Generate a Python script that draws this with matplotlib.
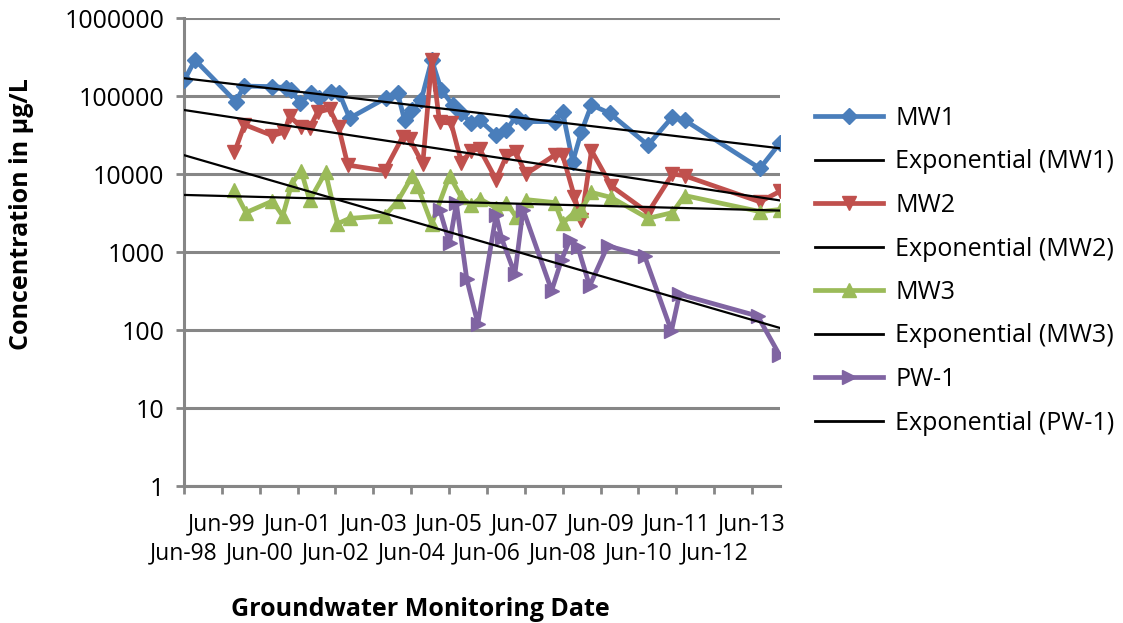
import numpy as np
import pandas as pd
import matplotlib
matplotlib.use("Agg")
import matplotlib.pyplot as plt
import matplotlib.dates as mdates
from matplotlib.lines import Line2D

plt.rcParams['font.family'] = ['Open Sans', 'DejaVu Sans']

# ---------------- data ----------------
mw1_dates = ["1998-06-05", "1998-09-15", "1999-10-12", "2000-01-05", "2000-10-01", "2001-02-06",
             "2001-03-25", "2001-06-28", "2001-10-05", "2001-12-20", "2002-04-20", "2002-07-08",
             "2002-10-15", "2003-10-05", "2004-01-22", "2004-03-28", "2004-06-12", "2004-09-05",
             "2004-12-15", "2005-03-18", "2005-07-05", "2005-09-28", "2006-01-01", "2006-03-22",
             "2006-08-28", "2006-12-05", "2007-03-10", "2007-05-30", "2008-03-15", "2008-05-30",
             "2008-09-05", "2008-11-28", "2009-03-05", "2009-08-28", "2010-09-01", "2011-04-25",
             "2011-08-20", "2013-08-15", "2014-02-25"]
mw1_vals = [160000, 290000, 85000, 134000, 132000, 128000,
            120000, 82000, 109000, 95000, 113000, 108000,
            52000, 95000, 108000, 49000, 66000, 89000,
            290000, 119000, 77000, 60000, 45000, 49000,
            31600, 36600, 55000, 47000, 47000, 63000,
            14400, 35000, 77000, 60000, 23500, 54000,
            49000, 11800, 25000]

mw2_dates = ["1999-10-01", "2000-01-05", "2000-10-01", "2001-01-25", "2001-03-15", "2001-07-05",
             "2001-09-25", "2001-12-10", "2002-04-05", "2002-07-01", "2002-09-28", "2003-09-18",
             "2004-03-10", "2004-05-15", "2004-09-20", "2004-12-15", "2005-03-01", "2005-06-20",
             "2005-09-28", "2006-01-01", "2006-03-22", "2006-08-28", "2006-12-05", "2007-03-05",
             "2007-06-12", "2008-03-15", "2008-05-30", "2008-09-22", "2008-11-28", "2009-03-05",
             "2009-09-12", "2010-09-01", "2011-04-25", "2011-08-20", "2013-08-15", "2014-02-25"]
mw2_vals = [19000, 43000, 31000, 34500, 55000, 40000,
            39000, 62000, 68000, 40000, 13000, 11000,
            30000, 28000, 13500, 290000, 46000, 45000,
            14000, 20000, 21000, 8500, 17000, 19000,
            10000, 17500, 17500, 5100, 2600, 20000,
            7000, 3200, 10000, 9500, 4400, 6000]

mw3_dates = ["1999-10-01", "2000-01-20", "2000-10-01", "2001-01-08", "2001-04-05", "2001-07-05",
             "2001-09-25", "2002-02-25", "2002-06-20", "2002-10-15", "2003-09-18", "2004-01-22",
             "2004-06-12", "2004-07-30", "2004-12-15", "2005-06-05", "2005-09-28", "2006-01-01",
             "2006-03-22", "2006-08-28", "2006-12-05", "2007-03-10", "2007-06-12", "2008-03-15",
             "2008-05-30", "2008-09-22", "2008-11-28", "2009-03-05", "2009-09-12", "2010-09-01",
             "2011-04-25", "2011-08-20", "2013-08-15", "2014-02-25"]
mw3_vals = [6200, 3200, 4500, 2900, 7500, 11000,
            4600, 10500, 2300, 2700, 2900, 4500,
            9500, 7000, 2300, 9500, 5000, 4000,
            4800, 3700, 4300, 2800, 4700, 4300,
            2350, 3200, 3500, 5800, 5000, 2700,
            3200, 5300, 3300, 3500]

pw1_dates = ["2005-03-01", "2005-06-05", "2005-08-10", "2005-11-18", "2006-03-05", "2006-08-28",
             "2006-10-20", "2007-02-25", "2007-05-15", "2008-02-15", "2008-05-20", "2008-08-08",
             "2008-10-25", "2009-02-15", "2009-08-08", "2010-07-30", "2011-04-15", "2011-07-01",
             "2013-07-25", "2014-02-20"]
pw1_vals = [3500, 1300, 4200, 450, 120, 3000,
            1500, 520, 3500, 320, 790, 1430,
            1150, 367, 1200, 890, 97, 287,
            151, 48]

series_names = ["MW1", "MW2", "MW3", "PW-1"]
y_tick_labels = ["1", "10", "100", "1000", "10000", "100000", "1000000"]
x_start, x_end = "1998-06-01", "2014-02-25"
tick_years = list(range(1998, 2014))

# ---------------- styling ----------------
colors = ["#4A7EBB", "#C0504D", "#9BBB59", "#8064A2"]
markers = ["D", "v", "^", ">"]
msizes = [8.5, 10.5, 10.5, 10.5]
grid_c = "#868686"
fs = 18
fs_x = 16.5

fig = plt.figure(figsize=(11.23, 6.23), dpi=100)
ax = fig.add_axes([184 / 1123, 1 - 486 / 623, (780 - 184) / 1123, (486 - 18) / 623])

all_dates = [mw1_dates, mw2_dates, mw3_dates, pw1_dates]
all_vals = [mw1_vals, mw2_vals, mw3_vals, pw1_vals]

xlo = mdates.date2num(pd.Timestamp(x_start))
xhi = mdates.date2num(pd.Timestamp(x_end))

handles, labels = [], []
for name, d, v, c, m, ms in zip(series_names, all_dates, all_vals, colors, markers, msizes):
    x = mdates.date2num(pd.to_datetime(d))
    ax.plot(x, v, color=c, lw=3.4, marker=m, ms=ms, mfc=c, mec=c, zorder=3)
    # exponential trendline (least-squares on log values)
    k, b = np.polyfit(x, np.log(v), 1)
    xs = np.array([xlo, xhi])
    ax.plot(xs, np.exp(k * xs + b), color="black", lw=1.6, zorder=4)
    handles.append(Line2D([], [], color=c, lw=3.4, marker=m, ms=ms, mfc=c, mec=c))
    labels.append(name)
    handles.append(Line2D([], [], color="black", lw=2))
    labels.append(f"Exponential ({name})")

ax.set_yscale("log")
ax.set_ylim(1, 1e6)
ax.set_xlim(xlo, xhi)
yt = [float(t) for t in y_tick_labels]
ax.set_yticks(yt)
ax.set_yticklabels(y_tick_labels, fontsize=fs)
ax.yaxis.set_minor_locator(matplotlib.ticker.NullLocator())
ax.grid(axis="y", which="major", color=grid_c, lw=2.2, zorder=0)

# staggered date labels: odd years upper row (major), even years lower row (minor)
upper = [yr for i, yr in enumerate(tick_years) if i % 2 == 1]
lower = [yr for i, yr in enumerate(tick_years) if i % 2 == 0]
ax.set_xticks([mdates.date2num(pd.Timestamp(f"{yr}-06-01")) for yr in upper])
ax.set_xticklabels([f"Jun-{yr % 100:02d}" for yr in upper], fontsize=fs_x)
ax.set_xticks([mdates.date2num(pd.Timestamp(f"{yr}-06-01")) for yr in lower], minor=True)
ax.set_xticklabels([f"Jun-{yr % 100:02d}" for yr in lower], minor=True, fontsize=fs_x)

for s in ["top", "right"]:
    ax.spines[s].set_visible(False)
for s in ["left", "bottom"]:
    ax.spines[s].set_color(grid_c)
    ax.spines[s].set_linewidth(2.2)
ax.tick_params(axis="both", which="both", colors=grid_c, width=2, length=6, labelcolor="black")
ax.tick_params(axis="x", which="major", pad=13)
ax.tick_params(axis="x", which="minor", pad=34)
ax.tick_params(axis="y", pad=8)

fig.text(22 / 1123, 1 - 214 / 623, "Concentration in µg/L", rotation=90, fontsize=fs,
         fontweight="bold", ha="center", va="center")
fig.text(420 / 1123, 1 - 610 / 623, "Groundwater Monitoring Date", fontsize=fs,
         fontweight="bold", ha="center", va="center")

fig.legend(handles, labels, loc="upper left", bbox_to_anchor=(805 / 1123, 1 - 96 / 623),
           frameon=False, fontsize=fs, handlelength=2.7, labelspacing=0.74, handletextpad=0.5,
           borderaxespad=0)

fig.savefig("out.png", dpi=100)
